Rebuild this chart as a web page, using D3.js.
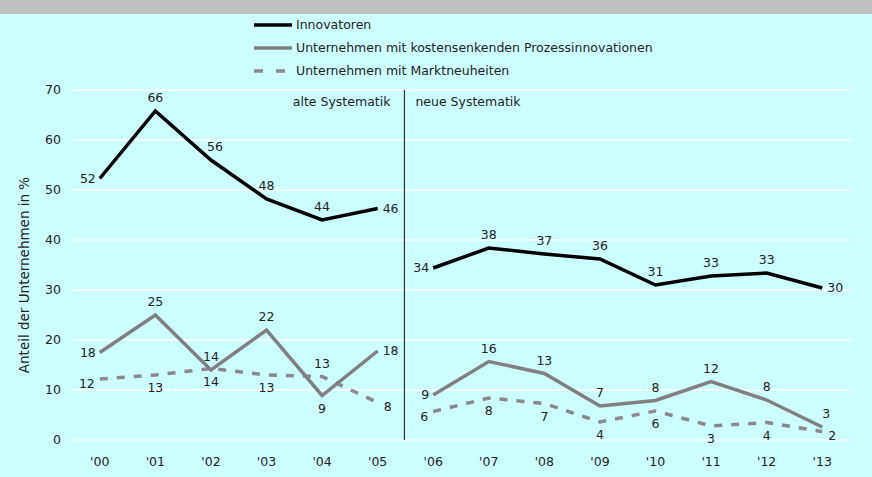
<!DOCTYPE html>
<html>
<head>
<meta charset="utf-8">
<script src="https://cdn.jsdelivr.net/npm/d3@7"></script>
<style>
  body { margin: 0; background: #ccffff; }
  svg { display: block; }
  text { font-family: "DejaVu Sans", Verdana, sans-serif; fill: #222; }
  .legend text { font-size: 12.5px; }
</style>
</head>
<body>
<svg id="chart" width="872" height="477"></svg>
<script>
// --- data ---
const years = ["'00", "'01", "'02", "'03", "'04", "'05", "'06", "'07", "'08", "'09", "'10", "'11", "'12", "'13"];
const innovatoren = [52.3, 65.8, 56, 48.2, 44, 46.3, 34.4, 38.4, 37.2, 36.2, 31, 32.8, 33.4, 30.4];
const prozess = [17.5, 25, 14, 22, 8.9, 17.8, 9, 15.7, 13.3, 6.8, 7.9, 11.7, 8, 2.6];
const markt = [12.2, 13, 14.3, 13, 12.7, 7.5, 5.7, 8.4, 7.3, 3.6, 5.8, 2.8, 3.5, 1.7];
const innovatorenLabels = [52, 66, 56, 48, 44, 46, 34, 38, 37, 36, 31, 33, 33, 30];
const prozessLabels = [18, 25, 14, 22, 9, 18, 9, 16, 13, 7, 8, 12, 8, 3];
const marktLabels = [12, 13, 14, 13, 13, 8, 6, 8, 7, 4, 6, 3, 4, 2];
const yTicks = [0, 10, 20, 30, 40, 50, 60, 70];
const seriesNames = ["Innovatoren", "Unternehmen mit kostensenkenden Prozessinnovationen", "Unternehmen mit Marktneuheiten"];

// where each value label sits relative to its point
const innovatorenPos = ["L", "T", "TR", "T", "T", "R", "L", "T", "T", "T", "T", "T", "T", "R"];
const prozessPos = ["L", "T", "T", "T", "B", "R", "L", "T", "T", "T", "T", "T", "T", "TR"];
const marktPos = ["BL", "B", "B", "B", "T", "BR", "BL", "B", "B", "B", "B", "B", "B", "BR"];

const svg = d3.select("#chart");
const margin = { left: 72, right: 22, top: 90, bottom: 37 };
const width = 872, height = 477;

// grey band on top
svg.append("rect").attr("x", 0).attr("y", 0).attr("width", width).attr("height", 14).attr("fill", "#c0c0c0");

const x = d3.scaleBand().domain(years).range([margin.left, width - margin.right]);
const y = d3.scaleLinear().domain([0, 70]).range([height - margin.bottom, margin.top]);
const cx = d => x(d) + x.bandwidth() / 2;

// gridlines
svg.append("g")
  .selectAll("line").data(yTicks).join("line")
  .attr("x1", margin.left).attr("x2", width - margin.right)
  .attr("y1", d => y(d)).attr("y2", d => y(d))
  .attr("stroke", "#fff").attr("stroke-width", 1.3);

// y tick labels
svg.append("g")
  .selectAll("text").data(yTicks).join("text")
  .attr("x", 61).attr("y", d => y(d)).attr("dy", "0.35em")
  .attr("text-anchor", "end").attr("font-size", 12.5).text(d => d);

// x tick labels
svg.append("g")
  .selectAll("text").data(years).join("text")
  .attr("x", d => cx(d)).attr("y", 466)
  .attr("text-anchor", "middle").attr("font-size", 12.5).text(d => d);

// y axis title
svg.append("text")
  .attr("transform", `translate(29,275) rotate(-90)`)
  .attr("text-anchor", "middle").attr("font-size", 13.5)
  .text("Anteil der Unternehmen in %");

// divider between old and new systematics
const divX = x("'06");
svg.append("line")
  .attr("x1", divX - 1).attr("x2", divX - 1).attr("y1", y(70)).attr("y2", y(0))
  .attr("stroke", "#333").attr("stroke-width", 1.2);
svg.append("text").attr("x", divX - 15).attr("y", 106).attr("text-anchor", "end")
  .attr("font-size", 12.5).text("alte Systematik");
svg.append("text").attr("x", divX + 10).attr("y", 106)
  .attr("font-size", 12.5).text("neue Systematik");

const line = d3.line().x(d => cx(d.year)).y(d => y(d.value));

function drawSeries(values, labels, pos, color, dash) {
  const pts = values.map((v, i) => ({ year: years[i], value: v, label: labels[i], pos: pos[i] }));
  [pts.slice(0, 6), pts.slice(6)].forEach(seg => {
    svg.append("path").datum(seg)
      .attr("d", line)
      .attr("fill", "none")
      .attr("stroke", color)
      .attr("stroke-width", 3.5)
      .attr("stroke-dasharray", dash || null)
      .attr("stroke-linejoin", "miter");
  });
  const offs = {
    L: [-4, 4, "end"], R: [5, 4, "start"], T: [0, -9, "middle"], B: [0, 17, "middle"],
    TR: [4, -9, "middle"], BL: [-5, 9, "end"], BR: [6, 8, "start"]
  };
  svg.append("g").selectAll("text").data(pts).join("text")
    .attr("x", d => cx(d.year) + offs[d.pos][0])
    .attr("y", d => y(d.value) + offs[d.pos][1])
    .attr("text-anchor", d => offs[d.pos][2])
    .attr("font-size", 12.5)
    .text(d => d.label);
}

drawSeries(markt, marktLabels, marktPos, "#8a8a8a", "8,9");
drawSeries(prozess, prozessLabels, prozessPos, "#808080", null);
drawSeries(innovatoren, innovatorenLabels, innovatorenPos, "#000", null);

// legend
const legend = svg.append("g").attr("class", "legend");
const legendColors = ["#000", "#808080", "#8a8a8a"];
const legendDash = [null, null, "9,13"];
seriesNames.forEach((name, i) => {
  const ly = 25 + i * 23;
  legend.append("line")
    .attr("x1", 254).attr("x2", 292).attr("y1", ly).attr("y2", ly)
    .attr("stroke", legendColors[i]).attr("stroke-width", 3.5)
    .attr("stroke-dasharray", legendDash[i]);
  legend.append("text").attr("x", 296).attr("y", ly).attr("dy", "0.35em").text(name);
});
</script>
</body>
</html>
